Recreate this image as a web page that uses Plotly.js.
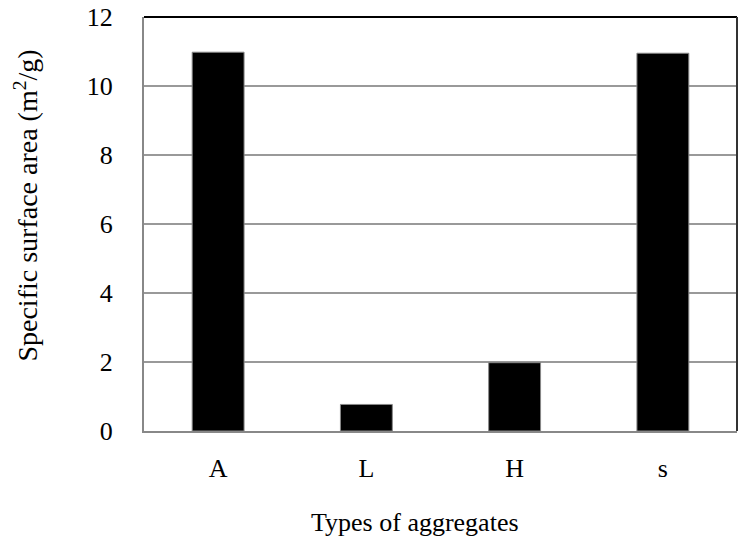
<!DOCTYPE html>
<html>
<head>
<meta charset="utf-8">
<script src="https://cdn.plot.ly/plotly-3.0.1.min.js"></script>
<style>html,body{margin:0;padding:0;background:#fff;}#chart{width:742px;height:546px;}</style>
</head>
<body>
<div id="chart"></div>
<script>
const categories = ["A", "L", "H", "s"];
const surfaceArea = [10.98, 0.77, 1.98, 10.95];
const yTicks = [0, 2, 4, 6, 8, 10, 12];
const xTitle = "Types of aggregates";
const yTitle = "Specific surface area (m<sup>2</sup>/g)";

const font = {family: "Liberation Serif, Times New Roman, serif", color: "#000"};
const fs = 26;

const trace = {
  type: "bar",
  x: categories,
  y: surfaceArea,
  marker: {color: "#000", line: {color: "#888", width: 1}},
  hoverinfo: "x+y"
};

const layout = {
  width: 742, height: 546,
  margin: {l: 144, r: 5, t: 17, b: 115},
  paper_bgcolor: "#fff", plot_bgcolor: "#fff",
  bargap: 0.65,
  showlegend: false,
  font: Object.assign({size: fs}, font),
  xaxis: {
    type: "category",
    showgrid: false,
    showline: true, linecolor: "#888", linewidth: 2,
    ticks: "", ticklabelstandoff: 13,
    tickfont: Object.assign({size: fs}, font)
  },
  yaxis: {
    range: [0, 12],
    tickvals: yTicks,
    ticktext: yTicks.map(String),
    showgrid: true, gridcolor: "#999", gridwidth: 1.5,
    zeroline: false,
    showline: true, linecolor: "#888", linewidth: 2,
    ticks: "", ticklabelstandoff: 24,
    tickfont: Object.assign({size: fs}, font)
  },
  annotations: [
    {text: xTitle, xref: "paper", yref: "paper", x: 0.457, y: -0.22, xanchor: "center", yanchor: "middle",
     showarrow: false, font: Object.assign({size: fs}, font)},
    {text: yTitle, xref: "paper", yref: "paper", x: -0.198, y: 0.5435, xanchor: "center", yanchor: "middle",
     textangle: -90, showarrow: false, font: Object.assign({size: 28}, font)}
  ],
  shapes: [
    {type: "line", xref: "paper", yref: "paper", x0: 0, x1: 1, y0: 1, y1: 1, line: {color: "#000", width: 2}},
    {type: "line", xref: "paper", yref: "paper", x0: 1, x1: 1, y0: 0, y1: 1, line: {color: "#333", width: 2}}
  ]
};

Plotly.newPlot("chart", [trace], layout, {displayModeBar: false, staticPlot: true});
</script>
</body>
</html>
